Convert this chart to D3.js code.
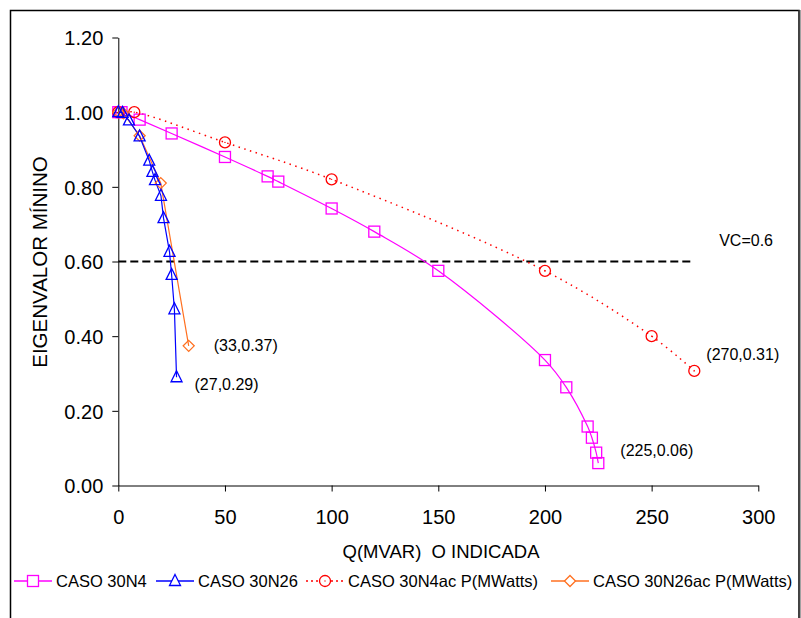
<!DOCTYPE html>
<html><head><meta charset="utf-8">
<script src="https://cdn.jsdelivr.net/npm/d3@7"></script>
<style>body{margin:0;background:#fff;} text{font-family:"Liberation Sans",Arial,sans-serif;}</style>
</head><body>
<svg id="c" width="801" height="618"></svg>
<script>
// ---- data ----
const caso30N4 = [[0,1.0],[1.5,1.0],[10,0.98],[25,0.943],[50,0.88],[70,0.828],[75,0.814],[100,0.742],[120,0.68],[150,0.575],[200,0.336],[210,0.263],[220,0.158],[222,0.128],[224,0.088],[225,0.06]];
const caso30N26 = [[0,1.0],[2,0.998],[5,0.978],[10,0.935],[14.5,0.87],[16,0.84],[17.2,0.818],[20,0.776],[21.2,0.716],[24,0.626],[25,0.564],[26.3,0.472],[27.3,0.29]];
const caso30N4ac = [[0,1.0],[7.5,1.0],[50,0.919],[100,0.82],[200,0.575],[250,0.40],[270,0.307]];
const caso30N26ac = [[0,1.0],[2.4,0.997],[10,0.937],[19.9,0.81],[33,0.374]];
const vcLevel = 0.6, vcEnd = 269;
const xTicks = [0,50,100,150,200,250,300];
const yTicks = [0,0.2,0.4,0.6,0.8,1.0,1.2];
const legendNames = ["CASO 30N4","CASO 30N26","CASO 30N4ac P(MWatts)","CASO 30N26ac P(MWatts)"];
const annotations = [
  {text:"(33,0.37)", x:33, y:0.374, dx:25, dy:0},
  {text:"(27,0.29)", x:27.3, y:0.29, dx:18, dy:7},
  {text:"(225,0.06)", x:225, y:0.06, dx:22, dy:-13},
  {text:"(270,0.31)", x:270, y:0.307, dx:12, dy:-16},
  {text:"VC=0.6", x:269, y:0.6, dx:27, dy:-21}
];

const svg = d3.select("#c");
// frame
svg.append("path").attr("d","M10.5,618 L10.5,10.5 L799,10.5 L799,618").attr("fill","none").attr("stroke","#000").attr("stroke-width",1.5);
svg.append("line").attr("x1",799.5).attr("x2",799.5).attr("y1",10).attr("y2",618).attr("stroke","#444").attr("stroke-width",2);

const x = d3.scaleLinear().domain([0,300]).range([118.3,758.3]);
const y = d3.scaleLinear().domain([0,1.2]).range([485.5,37.5]);

const xAxis = svg.append("g").attr("transform",`translate(0,${y(0)})`)
  .call(d3.axisBottom(x).tickValues(xTicks).tickSize(6).tickSizeOuter(0).tickPadding(14).tickFormat(d3.format("d")));
const yAxis = svg.append("g").attr("transform",`translate(${x(0)},0)`)
  .call(d3.axisLeft(y).tickValues(yTicks).tickSize(6).tickSizeOuter(0).tickPadding(9).tickFormat(d3.format(".2f")));
[xAxis,yAxis].forEach(g=>{
  g.selectAll("path,line").attr("stroke","#000").attr("stroke-width",1);
  g.selectAll("text").attr("font-size",20).attr("fill","#000").attr("font-family","Liberation Sans, Arial, sans-serif");
});
xAxis.selectAll("text").attr("dy","0.9em");
yAxis.selectAll("text").attr("dy","0.36em");

// axis titles
svg.append("text").attr("x",441).attr("y",558).attr("text-anchor","middle").attr("font-size",18.5).text("Q(MVAR)  O INDICADA").attr("xml:space","preserve");
svg.append("text").attr("transform","translate(47,262) rotate(-90)").attr("text-anchor","middle").attr("font-size",20.5).text("EIGENVALOR MÍNINO");

// VC line
svg.append("line").attr("x1",x(0)).attr("x2",x(vcEnd)).attr("y1",y(vcLevel)).attr("y2",y(vcLevel))
  .attr("stroke","#000").attr("stroke-width",2).attr("stroke-dasharray","8,4");

const smooth = d3.line().x(d=>x(d[0])).y(d=>y(d[1])).curve(d3.curveCatmullRom.alpha(0.5));
const straight = d3.line().x(d=>x(d[0])).y(d=>y(d[1]));

const colors = {m:"#ff00ff", b:"#0000ff", r:"#ff0000", o:"#ff7020"};

svg.append("path").attr("d",smooth(caso30N4)).attr("fill","none").attr("stroke",colors.m).attr("stroke-width",1.2);
svg.append("path").attr("d",smooth(caso30N4ac)).attr("fill","none").attr("stroke",colors.r).attr("stroke-width",1.5).attr("stroke-dasharray","1.5,4.5");
svg.append("path").attr("d",straight(caso30N26ac)).attr("fill","none").attr("stroke",colors.o).attr("stroke-width",1.2);
svg.append("path").attr("d",straight(caso30N26)).attr("fill","none").attr("stroke",colors.b).attr("stroke-width",1.2);

function marker(g, type, cx, cy, color){
  const s = 5.5;
  if(type==="square") g.append("rect").attr("x",cx-s).attr("y",cy-s).attr("width",2*s).attr("height",2*s);
  else if(type==="tri") g.append("path").attr("d",`M${cx},${cy-s-1} L${cx+s},${cy+s-1} L${cx-s},${cy+s-1} Z`);
  else if(type==="circle") g.append("circle").attr("cx",cx).attr("cy",cy).attr("r",s);
  else if(type==="diamond") g.append("path").attr("d",`M${cx},${cy-s} L${cx+s},${cy} L${cx},${cy+s} L${cx-s},${cy} Z`);
  g.selectAll(":last-child").attr("fill","none").attr("stroke",color).attr("stroke-width",1.3);
  if(type==="circle") g.append("circle").attr("cx",cx).attr("cy",cy).attr("r",0.7).attr("fill",color);
}
const series = [
  {data:caso30N4, type:"square", color:colors.m},
  {data:caso30N4ac, type:"circle", color:colors.r},
  {data:caso30N26ac, type:"diamond", color:colors.o},
  {data:caso30N26, type:"tri", color:colors.b}
];
series.forEach(s=>{
  const g = svg.append("g");
  s.data.forEach(d=>marker(g, s.type, x(d[0]), y(d[1]), s.color));
});

// annotations
svg.append("g").selectAll("text").data(annotations).join("text")
  .attr("x",d=>x(d.x)+d.dx).attr("y",d=>y(d.y)+d.dy).attr("dy","0.35em")
  .attr("font-size",16).attr("fill","#000").text(d=>d.text);

// legend
const legendItems = [
  {name:legendNames[0], type:"square", color:colors.m, dash:null, x0:14},
  {name:legendNames[1], type:"tri", color:colors.b, dash:null, x0:156},
  {name:legendNames[2], type:"circle", color:colors.r, dash:"2,3", x0:306},
  {name:legendNames[3], type:"diamond", color:colors.o, dash:null, x0:551}
];
const ly = 581;
legendItems.forEach(it=>{
  const g = svg.append("g");
  g.append("line").attr("x1",it.x0).attr("x2",it.x0+38).attr("y1",ly).attr("y2",ly).attr("stroke",it.color).attr("stroke-width",1.5).attr("stroke-dasharray",it.dash);
  const mg = g.append("g");
  marker(mg, it.type, it.x0+19, ly, it.color);
  mg.selectAll("rect,path,circle").attr("fill","#fff");
  mg.selectAll("circle").filter(function(){return +d3.select(this).attr("r")<1;}).attr("fill",it.color);
  g.append("text").attr("x",it.x0+42).attr("y",ly).attr("dy","0.36em").attr("font-size",16.5).attr("fill","#000").text(it.name);
});
</script>
</body></html>
